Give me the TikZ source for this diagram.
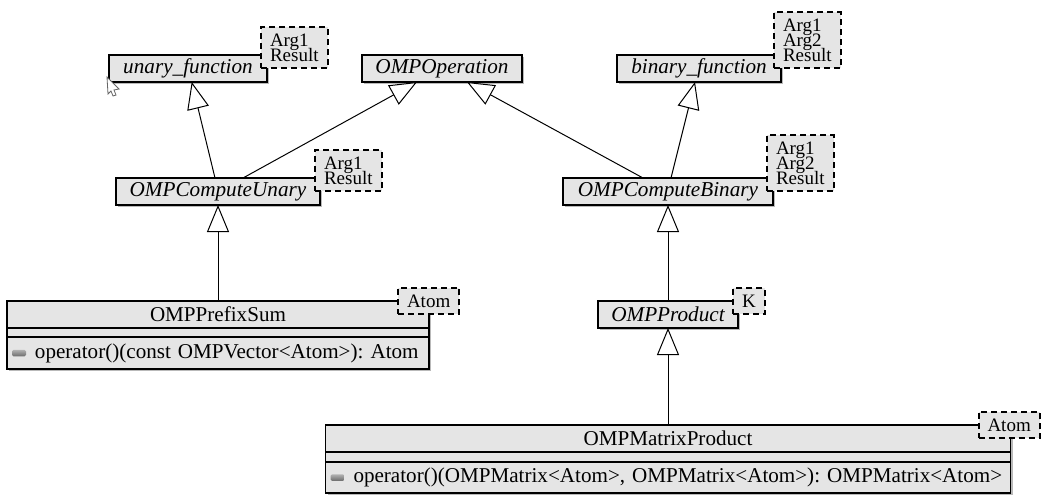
\documentclass[tikz,border=0pt]{standalone}
\usepackage{fontspec}
\setmainfont{Liberation Serif}
\usetikzlibrary{arrows.meta,positioning,shadows}

\newcommand{\tagfont}{\fontsize{19}{15}\selectfont\setlength{\lineskiplimit}{-20pt}}

\begin{document}
\frenchspacing
\begin{tikzpicture}[
        x=1pt, y=-1pt,
        every path/.style={line width=1pt},
        classbox/.style={draw, line width=1.2pt, fill=gray!20, outer sep=0pt, inner sep=0pt,
            drop shadow={shadow xshift=2pt, shadow yshift=-2pt, fill=gray!55, opacity=1},
            font=\fontsize{21.1}{24}\selectfont},
        abstractbox/.style={classbox, minimum height=27pt, font=\fontsize{21.2}{24}\selectfont\itshape},
        tagbox/.style={draw, dashed, dash pattern=on 6pt off 4pt, line width=2pt, fill=gray!20,
            outer sep=0pt, inner xsep=9pt, inner ysep=0pt, align=left, font=\tagfont},
        icon/.style={rounded corners=1.5pt, top color=gray!60, bottom color=gray!85!black,
            minimum width=14pt, minimum height=6.5pt, inner sep=0pt, outer sep=0pt},
        inherit/.style={-{Triangle[open, fill=white, length=27pt, width=22pt]}}
    ]
    \useasboundingbox (0,0) rectangle (1052,503);

    % Nodes
    \node (operation) [abstractbox, minimum width=160pt] at (442,68.5) {OMPOperation};
    \node (unary) [abstractbox, minimum width=158pt] at (188,68.5) {unary\_function};
    \node (binary) [abstractbox, minimum width=164pt] at (699,68.5) {binary\_function};
    \node (computeunary) [abstractbox, minimum width=204pt] at (218,191.5) {OMPComputeUnary};
    \node (computebinary) [abstractbox, minimum width=210pt] at (668,191.5) {OMPComputeBinary};
    \node (product) [abstractbox, minimum width=140pt, below=96pt of computebinary] {OMPProduct};

    \node (prefix) [classbox, minimum width=422pt, minimum height=27pt, below=96pt of computeunary] {OMPPrefixSum};
    \node (prefixgap) [classbox, minimum width=422pt, minimum height=9pt, below=0pt of prefix] {};
    \node (prefixops) [classbox, minimum width=422pt, minimum height=32pt, text width=422pt, align=left, below=0pt of prefixgap]
        {\hspace*{28pt}operator()(const OMPVector<Atom>): Atom};
    \node (prefixicon) [icon, right=5pt of prefixops.west] {};

    \node (matrix) [classbox, minimum width=685pt, minimum height=27pt, below=97pt of product] {OMPMatrixProduct};
    \node (matrixgap) [classbox, minimum width=685pt, minimum height=10pt, below=0pt of matrix] {};
    \node (matrixops) [classbox, minimum width=685pt, minimum height=31pt, text width=685pt, align=left, below=0pt of matrixgap]
        {\hspace*{28pt}operator()(OMPMatrix<Atom>, OMPMatrix<Atom>): OMPMatrix<Atom>};
    \node (matrixicon) [icon, right=5pt of matrixops.west] {};

    % Template tags
    \node (unarytag) [tagbox, minimum height=41pt, above right=-13pt and -6pt of unary.north east] {Arg1\\Result};
    \node (binarytag) [tagbox, minimum height=56pt, above right=-13pt and -7pt of binary.north east] {Arg1\\Arg2\\Result};
    \node (cutag) [tagbox, minimum height=41pt, above right=-13pt and -5pt of computeunary.north east] {Arg1\\Result};
    \node (cbtag) [tagbox, minimum height=56pt, above right=-13pt and -6pt of computebinary.north east] {Arg1\\Arg2\\Result};
    \node (producttag) [tagbox, minimum height=26pt, above right=-13pt and -5pt of product.north east] {K};
    \node (prefixtag) [tagbox, minimum height=26pt, above right=-13pt and -31pt of prefix.north east] {Atom};
    \node (matrixtag) [tagbox, minimum height=26pt, above right=-13pt and -32pt of matrix.north east] {Atom};

    % Edges
    \draw[inherit] ([xshift=-3pt]computeunary.north) -- ([xshift=3.7pt]unary.south);
    \draw[inherit] ([xshift=25pt]computeunary.north) -- ([xshift=-25pt]operation.south);
    \draw[inherit] ([xshift=-25pt]computebinary.north) -- ([xshift=25pt]operation.south);
    \draw[inherit] ([xshift=3pt]computebinary.north) -- ([xshift=-4pt]binary.south);
    \draw[inherit] (prefix.north) -- (computeunary.south);
    \draw[inherit] (product.north) -- (computebinary.south);
    \draw[inherit] (matrix.north) -- (product.south);

    % Mouse pointer
    \draw[line width=.8pt, draw=gray!80!black, fill=white] (107,77) -- (119,89) -- (114,90) -- (116,95)
        -- (113,96) -- (111,91) -- (108,94) -- cycle;
\end{tikzpicture}
\end{document}
